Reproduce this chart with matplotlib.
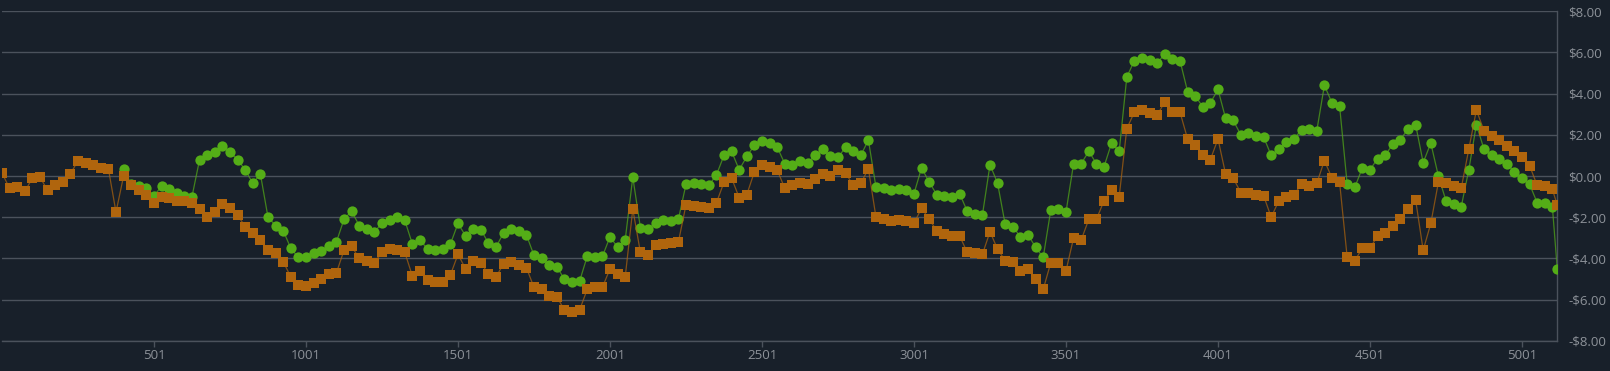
import numpy as np
import matplotlib
matplotlib.use("Agg")
import matplotlib.pyplot as plt
from matplotlib.ticker import FuncFormatter

# x positions of the sampled points
orange_x = np.append(np.arange(1, 5102, 25), 5117)
green_x = np.append(np.arange(401, 5102, 25), 5117)

orange_y = [
    0.15, -0.6, -0.55, -0.75, -0.1, -0.05, -0.7, -0.45, -0.3, 0.1, 0.75, 0.65, 0.55, 0.4,
    0.35, -1.75, 0.0, -0.45, -0.7, -0.9, -1.3, -1.0, -1.05, -1.2, -1.2, -1.3, -1.6,
    -2.0, -1.75, -1.35, -1.55, -1.9, -2.45, -2.75, -3.1, -3.6, -3.75, -4.15, -4.9, -5.3,
    -5.35, -5.2, -5.0, -4.75, -4.7, -3.6, -3.4, -4.0, -4.1, -4.2, -3.7, -3.55,
    -3.6, -3.7, -4.85, -4.6, -5.05, -5.15, -5.15, -4.8, -3.8, -4.5, -4.1, -4.2, -4.75,
    -4.9, -4.25, -4.15, -4.3, -4.45, -5.4, -5.5, -5.8, -5.85, -6.5, -6.6, -6.5, -5.5,
    -5.4, -5.4, -4.5, -4.75, -4.9, -1.6, -3.7, -3.85, -3.35, -3.3, -3.25, -3.2, -1.4,
    -1.45, -1.5, -1.55, -1.3, -0.3, -0.1, -1.05, -0.9, 0.2, 0.55, 0.45, 0.3, -0.6,
    -0.45, -0.35, -0.4, -0.15, 0.1, 0.0, 0.3, 0.15, -0.45, -0.35, 0.35, -2.0, -2.1,
    -2.2, -2.15, -2.2, -2.3, -1.55, -2.1, -2.65, -2.8, -2.9, -2.9, -3.7, -3.75,
    -3.8, -2.7, -3.55, -4.1, -4.15, -4.6, -4.5, -5.0, -5.5, -4.2, -4.2, -4.6, -3.0,
    -3.1, -2.1, -2.1, -1.2, -0.7, -1.0, 2.3, 3.1, 3.2, 3.05, 2.95, 3.6, 3.1,
    3.1, 1.8, 1.5, 1.0, 0.8, 1.8, 0.1, -0.1, -0.8, -0.8, -0.9, -0.95, -2.0, -1.2,
    -1.0, -0.9, -0.4, -0.5, -0.35, 0.75, -0.1, -0.3, -3.95, -4.1, -3.5, -3.5,
    -2.9, -2.75, -2.4, -2.1, -1.6, -1.15, -3.6, -2.3, -0.3, -0.35, -0.5, -0.6, 1.3,
    3.2, 2.2, 1.95, 1.75, 1.45, 1.2, 0.9, 0.5, -0.45, -0.5, -0.65,
    -1.4,
]

green_y = [
    0.35, -0.4, -0.5, -0.6, -0.95, -0.5, -0.65, -0.8, -0.95, -1.0, 0.8,
    1.0, 1.15, 1.45, 1.15, 0.8, 0.3, -0.35, 0.1, -2.0, -2.4, -2.65, -3.5, -3.95,
    -3.95, -3.75, -3.65, -3.4, -3.2, -2.1, -1.7, -2.4, -2.55, -2.7, -2.3, -2.15,
    -2.0, -2.15, -3.3, -3.1, -3.55, -3.6, -3.55, -3.3, -2.3, -2.9, -2.55, -2.6, -3.25,
    -3.45, -2.75, -2.55, -2.65, -2.85, -3.85, -4.0, -4.3, -4.4, -5.0, -5.15, -5.1, -3.9,
    -3.95, -3.9, -2.95, -3.45, -3.1, -0.05, -2.5, -2.55, -2.3, -2.15, -2.2, -2.1, -0.4,
    -0.35, -0.4, -0.45, 0.05, 1.0, 1.2, 0.3, 0.95, 1.5, 1.7, 1.6, 1.4, 0.6,
    0.55, 0.75, 0.65, 1.0, 1.3, 0.95, 0.9, 1.4, 1.2, 1.0, 1.75, -0.55, -0.6,
    -0.7, -0.65, -0.7, -0.85, 0.4, -0.3, -0.9, -0.95, -1.0, -0.85, -1.7, -1.85,
    -1.9, 0.55, -0.35, -2.35, -2.45, -2.95, -2.85, -3.45, -3.95, -1.65, -1.6, -1.75, 0.6,
    0.6, 1.2, 0.6, 0.45, 1.6, 1.2, 4.8, 5.6, 5.75, 5.65, 5.5, 5.9, 5.7,
    5.6, 4.1, 3.9, 3.35, 3.55, 4.2, 2.8, 2.7, 2.0, 2.1, 1.95, 1.9, 1.0, 1.3,
    1.65, 1.8, 2.25, 2.3, 2.2, 4.4, 3.55, 3.4, -0.4, -0.55, 0.4, 0.3,
    0.85, 1.0, 1.55, 1.75, 2.3, 2.5, 0.65, 1.6, 0.0, -1.2, -1.35, -1.5, 0.3,
    2.5, 1.3, 1.0, 0.85, 0.6, 0.2, -0.1, -0.4, -1.3, -1.3, -1.5,
    -4.5,
]

x_ticks = [501, 1001, 1501, 2001, 2501, 3001, 3501, 4001, 4501, 5001]
y_ticks = [-8, -6, -4, -2, 0, 2, 4, 6, 8]

bg = "#18202a"
grid_col = "#4b525c"
text_col = "#8d9299"
green = "#54ad17"
orange = "#b0650d"

plt.rcParams["font.family"] = ["Open Sans", "DejaVu Sans"]

fig = plt.figure(figsize=(16.10, 3.71), dpi=100, facecolor=bg)
ax = fig.add_axes([0.00124, 0.081, 0.966, 0.889], facecolor=bg)

ax.plot(green_x, green_y, color=green, lw=0.9, alpha=0.7, zorder=2)
ax.plot(green_x, green_y, ls="none", marker="o", ms=7.4, mfc=green, mec=green,
        mew=0, zorder=3)
ax.plot(orange_x, orange_y, color=orange, lw=0.9, alpha=0.7, zorder=4)
ax.plot(orange_x, orange_y, ls="none", marker="s", ms=6.8, mfc=orange, mec=orange,
        mew=0, zorder=5)

ax.set_xlim(1, 5117)
ax.set_ylim(-8, 8)
ax.set_yticks(y_ticks)
ax.set_xticks(x_ticks)
ax.yaxis.tick_right()
ax.yaxis.set_major_formatter(FuncFormatter(
    lambda v, p: ("-$%.2f" % abs(v)) if v < 0 else ("$%.2f" % v)))
ax.grid(axis="y", color=grid_col, lw=1.0)
ax.set_axisbelow(True)

for side in ["top", "left"]:
    ax.spines[side].set_visible(False)
for side in ["right", "bottom"]:
    ax.spines[side].set_color(grid_col)
    ax.spines[side].set_linewidth(1.0)

ax.tick_params(axis="y", length=0, pad=8, labelcolor=text_col, labelsize=9.5)
ax.tick_params(axis="x", length=4, width=1, color=grid_col, pad=2,
               labelcolor=text_col, labelsize=9.5)

fig.savefig("out.png", dpi=100, facecolor=bg)
